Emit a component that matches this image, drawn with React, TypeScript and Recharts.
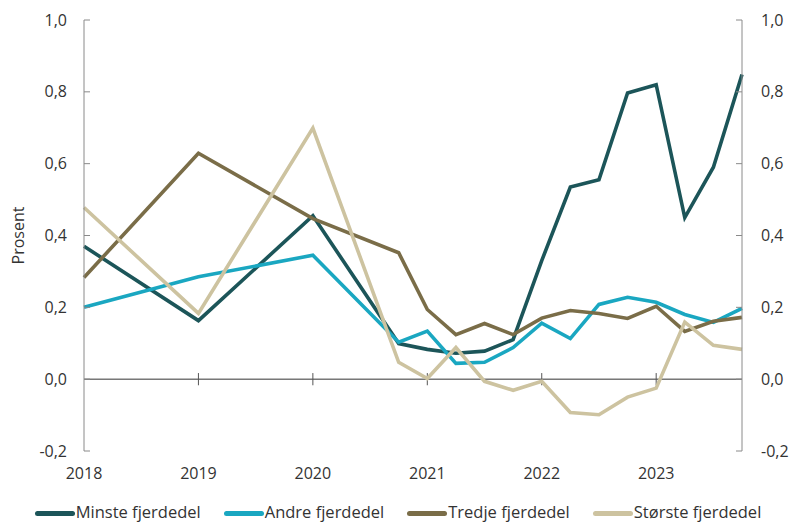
import { Legend, Line, LineChart, ReferenceLine, XAxis, YAxis } from "recharts";

// årlige punkter fram til 2020, deretter kvartalsvis
const PERIODER = [
  2018, 2019, 2020, 2020.75, 2021, 2021.25, 2021.5, 2021.75, 2022, 2022.25, 2022.5, 2022.75, 2023, 2023.25,
  2023.5, 2023.75,
];

const MINSTE = [0.37, 0.163, 0.455, 0.099, 0.083, 0.072, 0.078, 0.11, 0.33, 0.535, 0.555, 0.797, 0.82, 0.45, 0.59, 0.848];
const ANDRE = [0.2, 0.285, 0.345, 0.103, 0.134, 0.044, 0.047, 0.088, 0.156, 0.113, 0.208, 0.228, 0.214, 0.18, 0.158, 0.197];
const TREDJE = [0.283, 0.629, 0.447, 0.352, 0.194, 0.124, 0.155, 0.124, 0.17, 0.191, 0.183, 0.169, 0.203, 0.133, 0.161, 0.172];
const STORSTE = [0.478, 0.183, 0.699, 0.047, 0.002, 0.088, -0.006, -0.031, -0.006, -0.093, -0.099, -0.05, -0.025, 0.159, 0.094, 0.083];

const AAR = [2018, 2019, 2020, 2021, 2022, 2023];
const Y_TICKS = [-0.2, 0, 0.2, 0.4, 0.6, 0.8, 1.0];

// siste serie knyttes til høyre akse (samme skala) slik at den får tikker
const SERIER = [
  { key: "minste", navn: "Minste fjerdedel", farge: "#1c5559", akse: "venstre" },
  { key: "andre", navn: "Andre fjerdedel", farge: "#1aa7c1", akse: "venstre" },
  { key: "tredje", navn: "Tredje fjerdedel", farge: "#7a6d48", akse: "venstre" },
  { key: "storste", navn: "Største fjerdedel", farge: "#cdc3a0", akse: "hoyre" },
];

const data = PERIODER.map((x, i) => ({
  x,
  minste: MINSTE[i],
  andre: ANDRE[i],
  tredje: TREDJE[i],
  storste: STORSTE[i],
}));

const FONT = "'Open Sans', sans-serif";
const TEKST = "#333333";
const AKSE = "#8a8a8a";

const formater = (v: number) => v.toFixed(1).replace(".", ",");

function VenstreTick(props: any) {
  const { x, y, payload } = props;
  return (
    <g>
      <line x1={x + 17} x2={x + 23} y1={y} y2={y} stroke={AKSE} />
      <text x={x} y={y} dy="0.35em" textAnchor="end" fill={TEKST} fontSize={16} fontFamily={FONT}>
        {formater(payload.value)}
      </text>
    </g>
  );
}

function HoyreTick(props: any) {
  const { x, y, payload } = props;
  return (
    <g>
      <line x1={x - 19} x2={x - 25} y1={y} y2={y} stroke={AKSE} />
      <text x={x} y={y} dy="0.35em" textAnchor="start" fill={TEKST} fontSize={16} fontFamily={FONT}>
        {formater(payload.value)}
      </text>
    </g>
  );
}

function Tegnforklaring() {
  return (
    <div
      style={{
        display: "flex",
        justifyContent: "center",
        alignItems: "center",
        gap: 23,
        height: 32,
        boxSizing: "border-box",
        paddingTop: 9,
        paddingLeft: 4,
        fontFamily: FONT,
        fontSize: 16.5,
        color: TEKST,
      }}
    >
      {SERIER.map((s) => (
        <div key={s.key} style={{ display: "flex", alignItems: "center" }}>
          <span
            style={{
              display: "inline-block",
              width: 40,
              height: 5,
              borderRadius: 3,
              background: s.farge,
              marginRight: 1,
              marginTop: 3,
            }}
          />
          {s.navn}
        </div>
      ))}
    </div>
  );
}

export default function App() {
  return (
    <div style={{ position: "absolute", left: 0, top: 0, width: 792, height: 523, background: "#fff" }}>
      <LineChart width={792} height={523} data={data} margin={{ top: 20, right: 0, left: 0, bottom: 0 }}>
        <XAxis
          dataKey="x"
          type="number"
          domain={[2018, 2023.75]}
          ticks={AAR}
          axisLine={false}
          tickLine={false}
          tickSize={0}
          tickMargin={17}
          height={40}
          tick={{ fill: TEKST, fontSize: 16, fontFamily: FONT }}
        />
        <YAxis
          yAxisId="venstre"
          domain={[-0.2, 1.0]}
          ticks={Y_TICKS}
          width={84}
          axisLine={{ stroke: AKSE }}
          tickLine={false}
          tickSize={0}
          tickMargin={17}
          tick={<VenstreTick />}
          label={{
            value: "Prosent",
            angle: -90,
            position: "insideLeft",
            offset: 18,
            style: { textAnchor: "middle", fill: TEKST, fontSize: 16, fontFamily: FONT },
          }}
        />
        <YAxis
          yAxisId="hoyre"
          orientation="right"
          domain={[-0.2, 1.0]}
          ticks={Y_TICKS}
          width={50}
          axisLine={{ stroke: AKSE }}
          tickLine={false}
          tickSize={0}
          tickMargin={19}
          tick={<HoyreTick />}
        />
        <ReferenceLine yAxisId="venstre" y={0} stroke="#333" strokeWidth={1} />
        {AAR.slice(1).map((aar) => (
          <ReferenceLine
            key={aar}
            yAxisId="venstre"
            segment={[
              { x: aar, y: -0.017 },
              { x: aar, y: 0.017 },
            ]}
            stroke="#555"
            strokeWidth={1}
          />
        ))}
        {SERIER.map((s) => (
          <Line
            key={s.key}
            yAxisId={s.akse}
            type="linear"
            dataKey={s.key}
            name={s.navn}
            stroke={s.farge}
            strokeWidth={3.6}
            dot={false}
            activeDot={false}
            isAnimationActive={false}
          />
        ))}
        <Legend verticalAlign="bottom" content={<Tegnforklaring />} />
      </LineChart>
    </div>
  );
}
